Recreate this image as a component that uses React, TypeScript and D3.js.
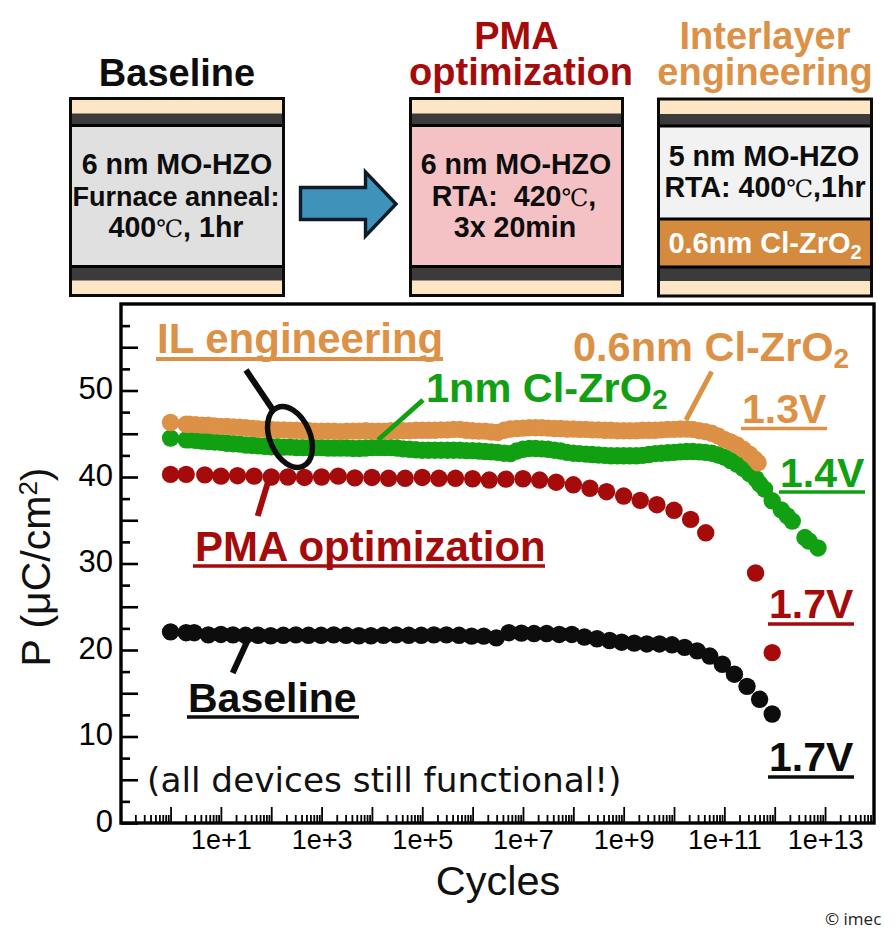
import React, { useEffect, useRef } from "react";
import * as d3 from "d3";

// log10(cycles) and polarization (uC/cm2)
const baselineExp = [0, 0.31, 0.47, 0.75, 1, 1.24, 1.49, 1.74, 1.99, 2.24, 2.49, 2.74, 2.99, 3.24, 3.49, 3.74, 3.98, 4.23, 4.48, 4.73, 4.98, 5.23, 5.48, 5.73, 5.98, 6.22, 6.47, 6.72, 6.97, 7.22, 7.47, 7.72, 7.97, 8.22, 8.47, 8.72, 8.96, 9.21, 9.46, 9.71, 9.96, 10.21, 10.46, 10.71, 10.96, 11.2, 11.45, 11.7, 11.95];
const baselineP = [22.1, 22.0, 22.0, 21.75, 21.8, 21.75, 21.7, 21.7, 21.65, 21.7, 21.75, 21.7, 21.7, 21.75, 21.7, 21.65, 21.65, 21.7, 21.75, 21.7, 21.7, 21.75, 21.75, 21.7, 21.6, 21.6, 21.4, 22.0, 21.95, 21.9, 21.9, 21.8, 21.8, 21.5, 21.3, 21.1, 20.9, 20.8, 20.7, 20.7, 20.6, 20.3, 19.9, 19.3, 18.35, 17.2, 15.8, 14.3, 12.6];

const pmaExp = [0, 0.31, 0.68, 1, 1.33, 1.66, 2, 2.33, 2.66, 3, 3.33, 3.66, 4, 4.33, 4.66, 5, 5.33, 5.66, 6, 6.33, 6.66, 7, 7.33, 7.66, 8, 8.33, 8.66, 9, 9.33, 9.66, 10, 10.33, 10.63, 11.62, 11.95];
const pmaP = [40.3, 40.3, 40.25, 40.1, 40.15, 40.1, 40, 40, 39.95, 40, 40.1, 39.9, 39.95, 39.85, 39.85, 39.95, 39.85, 39.85, 39.8, 39.65, 39.75, 39.8, 39.65, 39.4, 39.1, 38.7, 38.3, 37.8, 37.3, 36.8, 36.15, 35.1, 33.55, 28.9, 19.7];

const clOneExp = [
  0, 0.31, 0.375, 0.5, 0.625, 0.75, 0.875,
  1, 1.125, 1.25, 1.375, 1.5, 1.625, 1.75, 1.875,
  2, 2.125, 2.25, 2.375, 2.5, 2.625, 2.75, 2.875,
  3, 3.125, 3.25, 3.375, 3.5, 3.625, 3.75, 3.875,
  4, 4.125, 4.25, 4.375, 4.5, 4.625, 4.75, 4.875,
  5, 5.125, 5.25, 5.375, 5.5, 5.625, 5.75, 5.875,
  6, 6.125, 6.25, 6.375, 6.5, 6.625, 6.75, 6.875,
  7, 7.125, 7.25, 7.375, 7.5, 7.625, 7.75, 7.875,
  8, 8.125, 8.25, 8.375, 8.5, 8.625, 8.75, 8.875,
  9, 9.125, 9.25, 9.375, 9.5, 9.625, 9.75, 9.875,
  10, 10.125, 10.25, 10.375, 10.5, 10.625, 10.75, 10.875,
  11, 11.125, 11.25, 11.375, 11.5, 11.625, 11.7, 11.8, 11.95, 12.13, 12.25, 12.35, 12.6, 12.68, 12.86,
];
const clOneP = [
  44.5, 44.3, 44.3, 44.25, 44.15, 44.1, 44.05,
  44.0, 43.9, 43.85, 43.8, 43.7, 43.65, 43.6, 43.55,
  43.5, 43.5, 43.45, 43.45, 43.4, 43.4, 43.4, 43.4,
  43.4, 43.35, 43.35, 43.35, 43.35, 43.3, 43.3, 43.35,
  43.4, 43.4, 43.4, 43.4, 43.35, 43.25, 43.2, 43.15,
  43.1, 43.1, 43.1, 43.1, 43.1, 43.1, 43.1, 43.05,
  43.05, 43.0, 42.95, 42.9, 42.85, 42.75, 42.7, 43.0,
  43.2, 43.3, 43.3, 43.25, 43.2, 43.1, 43.0, 42.85,
  42.75, 42.7, 42.65, 42.6, 42.55, 42.5, 42.45, 42.45,
  42.45, 42.45, 42.45, 42.5, 42.6, 42.7, 42.75, 42.8,
  42.85, 42.9, 42.95, 42.95, 42.9, 42.85, 42.75, 42.55,
  42.3, 41.9, 41.5, 41.0, 40.4, 39.8, 39.2, 38.6, 37.25, 36.2, 35.5, 34.9, 33.0, 32.6, 31.8,
];

const clSixExp = [
  0, 0.31, 0.375, 0.5, 0.625, 0.75, 0.875,
  1, 1.125, 1.25, 1.375, 1.5, 1.625, 1.75, 1.875,
  2, 2.125, 2.25, 2.375, 2.5, 2.625, 2.75, 2.875,
  3, 3.125, 3.25, 3.375, 3.5, 3.625, 3.75, 3.875,
  4, 4.125, 4.25, 4.375, 4.5, 4.625, 4.75, 4.875,
  5, 5.125, 5.25, 5.375, 5.5, 5.625, 5.75, 5.875,
  6, 6.125, 6.25, 6.375, 6.5, 6.625, 6.75, 6.875,
  7, 7.125, 7.25, 7.375, 7.5, 7.625, 7.75, 7.875,
  8, 8.125, 8.25, 8.375, 8.5, 8.625, 8.75, 8.875,
  9, 9.125, 9.25, 9.375, 9.5, 9.625, 9.75, 9.875,
  10, 10.125, 10.25, 10.375, 10.5, 10.625, 10.75, 10.875,
  11, 11.125, 11.25, 11.375, 11.5, 11.6, 11.67,
];
const clSixP = [
  46.3, 46.1, 46.1, 46.05, 46.0, 46.0, 45.9,
  45.85, 45.85, 45.8, 45.75, 45.7, 45.6, 45.55, 45.5,
  45.5, 45.45, 45.45, 45.4, 45.4, 45.35, 45.35, 45.3,
  45.3, 45.3, 45.3, 45.25, 45.3, 45.3, 45.3, 45.35,
  45.3, 45.3, 45.3, 45.35, 45.35, 45.35, 45.35, 45.4,
  45.4, 45.4, 45.4, 45.45, 45.45, 45.5, 45.5, 45.4,
  45.35, 45.3, 45.3, 45.2, 45.15, 45.4, 45.55, 45.6,
  45.65, 45.7, 45.7, 45.7, 45.65, 45.6, 45.6, 45.55,
  45.55, 45.5, 45.5, 45.45, 45.45, 45.4, 45.4, 45.35,
  45.35, 45.35, 45.35, 45.4, 45.4, 45.4, 45.45, 45.5,
  45.5, 45.55, 45.55, 45.5, 45.35, 45.25, 45.05, 44.75,
  44.35, 44.05, 43.7, 43.2, 42.65, 42.1, 41.65,
];

const yLabels = [0, 10, 20, 30, 40, 50];
const xLabelExp = [1, 3, 5, 7, 9, 11, 13];

const BLACK = "#0d0d0d";
const RED = "#a50b0b";
const GREEN = "#11a011";
const TAN = "#dc9146";
const SANS = "'Liberation Sans', Arial, sans-serif";

const Stack = ({ x, width, top, core, bottomLayer }: any) => {
  const h = 197;
  return (
    <g>
      <rect x={x} y={top} width={width} height={h} fill="#fce6c6" />
      <rect x={x} y={top + 15} width={width} height={13} fill="#3b3b3b" />
      <rect x={x} y={top + 168} width={width} height={14} fill="#3b3b3b" />
      <rect x={x} y={top + 27} width={width} height={141} fill={core} />
      {bottomLayer}
      <line x1={x} x2={x + width} y1={top + 27} y2={top + 27} stroke="#000" strokeWidth={3} />
      <line x1={x} x2={x + width} y1={top + 168} y2={top + 168} stroke="#000" strokeWidth={3} />
      <rect x={x} y={top} width={width} height={h} fill="none" stroke="#0a0a0a" strokeWidth={3} />
    </g>
  );
};

const Degree = () => (
  <tspan fontFamily="'Liberation Serif', 'DejaVu Serif', serif" fontWeight={400} fontSize={24}>℃</tspan>
);

const Label = ({ x, y, size, color, children, anchor = "middle", weight = 700, family = SANS }: any) => (
  <text x={x} y={y} fontSize={size} fill={color} textAnchor={anchor} fontWeight={weight} fontFamily={family}>
    {children}
  </text>
);

const Chart = () => {
  const ref = useRef<SVGGElement>(null);

  useEffect(() => {
    if (!ref.current) return;
    const g = d3.select(ref.current);
    g.selectAll("*").remove();

    const x = d3.scaleLog().domain([0.1, 1e14]).range([120.2, 875.4]);
    const y = d3.scaleLinear().domain([0, 60]).range([823, 304]);

    const series = [
      { exp: baselineExp, p: baselineP, color: BLACK },
      { exp: pmaExp, p: pmaP, color: RED },
      { exp: clOneExp, p: clOneP, color: GREEN },
      { exp: clSixExp, p: clSixP, color: TAN },
    ];
    series.forEach((s) => {
      g.append("g")
        .selectAll("circle")
        .data(s.exp)
        .join("circle")
        .attr("cx", (d) => x(Math.pow(10, d)))
        .attr("cy", (_, i) => y(s.p[i]))
        .attr("r", 8.7)
        .attr("fill", s.color);
    });

    // y axis: long ticks every 5, short ones in between, labels every 10
    const yMajor = d3.range(0, 60, 5);
    const yMinor = yMajor.map((d) => d + 2.5);
    const yAxisMajor = d3.axisLeft(y).tickValues(yMajor).tickSize(-17).tickFormat(() => "");
    const yAxisMinor = d3.axisLeft(y).tickValues(yMinor).tickSize(-9).tickFormat(() => "");
    [yAxisMajor, yAxisMinor].forEach((axis) => {
      const a = g.append("g").attr("transform", "translate(121,0)").call(axis);
      a.select(".domain").remove();
      a.selectAll("line").attr("stroke", "#000").attr("stroke-width", 2.6);
    });
    const yAxisText = d3.axisLeft(y).tickValues(yLabels).tickSize(0).tickPadding(8);
    const yt = g.append("g").attr("transform", "translate(121,-1.5)").call(yAxisText);
    yt.select(".domain").remove();
    yt.selectAll("text").attr("font-size", 31).attr("font-family", SANS).attr("fill", "#000");

    // x axis: decades plus 2..9 minor ticks
    const decades = d3.range(-1, 14);
    const xMajor = decades.map((e) => Math.pow(10, e));
    const xMinor = decades.flatMap((e) => d3.range(2, 10).map((m) => m * Math.pow(10, e))).filter((v) => x(v) < 872);
    const xAxisMajor = d3.axisBottom(x).tickValues(xMajor.slice(1)).tickSize(-16).tickFormat(() => "");
    const xAxisMinor = d3.axisBottom(x).tickValues(xMinor).tickSize(-8).tickFormat(() => "");
    [xAxisMajor, xAxisMinor].forEach((axis) => {
      const a = g.append("g").attr("transform", "translate(0,823)").call(axis);
      a.select(".domain").remove();
      a.selectAll("line").attr("stroke", "#000").attr("stroke-width", 1.8);
    });
    const xAxisText = d3
      .axisBottom(x)
      .tickValues(xLabelExp.map((e) => Math.pow(10, e)))
      .tickSize(0)
      .tickPadding(7)
      .tickFormat((d) => `1e+${Math.round(Math.log10(+d))}`);
    const xt = g.append("g").attr("transform", "translate(0,823)").call(xAxisText);
    xt.select(".domain").remove();
    xt.selectAll("text").attr("font-size", 27).attr("font-family", SANS).attr("fill", "#000");

    g.append("rect")
      .attr("x", 121)
      .attr("y", 304)
      .attr("width", 753)
      .attr("height", 519)
      .attr("fill", "none")
      .attr("stroke", "#000")
      .attr("stroke-width", 3.4);
  }, []);

  return <g ref={ref} />;
};

function App() {
  return (
    <svg width={896} height={931} style={{ position: "absolute", left: 0, top: 0, background: "#fff" }}>
      {/* device stacks */}
      <Label x={177} y={86} size={38} color={BLACK}>Baseline</Label>
      <text fontSize={38} fontWeight={700} fontFamily={SANS} fill={RED} textAnchor="middle">
        <tspan x={516.5} y={49}>PMA</tspan>
        <tspan x={521} y={85}>optimization</tspan>
      </text>
      <text fontSize={38} fontWeight={700} fontFamily={SANS} fill={TAN} textAnchor="middle">
        <tspan x={765} y={49}>Interlayer</tspan>
        <tspan x={765} y={85}>engineering</tspan>
      </text>

      <Stack x={70.5} width={213} top={98.5} core="#e0e0e0" />
      <Stack x={410.5} width={212} top={98.5} core="#f4c2c4" />
      <Stack
        x={658.5}
        width={213}
        top={99}
        core="#f2f2f2"
        bottomLayer={
          <g>
            <rect x={658.5} y={219} width={213} height={49} fill="#d58b3e" />
            <line x1={658.5} x2={871.5} y1={219} y2={219} stroke="#000" strokeWidth={3} />
          </g>
        }
      />

      <Label x={177} y={174} size={28.6} color={BLACK}>6 nm MO-HZO</Label>
      <Label x={176} y={206} size={27} color={BLACK}>Furnace anneal:</Label>
      <Label x={176} y={237} size={28.6} color={BLACK}>400<Degree />, 1hr</Label>
      <Label x={516} y={174} size={28.6} color={BLACK}>6 nm MO-HZO</Label>
      <Label x={514} y={206} size={28.6} color={BLACK}>RTA:{"\u00a0\u00a0"}420<Degree />,</Label>
      <Label x={515} y={237} size={28.6} color={BLACK}>3x 20min</Label>
      <Label x={764} y={166} size={28.6} color={BLACK}>5 nm MO-HZO</Label>
      <Label x={765} y={197} size={28.6} color={BLACK}>RTA: 400<Degree />,1hr</Label>
      <Label x={765} y={253} size={29} color="#fff">
        0.6nm Cl-ZrO<tspan fontSize={20} dy={6}>2</tspan>
      </Label>

      {/* arrow */}
      <path d="M300.5,187.5 H365.5 V172 L396,204 L365.5,236 V219.5 H300.5 Z" fill="#3f93bb" stroke="#0e1c28" strokeWidth={3.4} />

      <Chart />

      {/* leaders */}
      <line x1={711.7} y1={371.7} x2={686} y2={420} stroke={TAN} strokeWidth={5} />
      <line x1={423} y1={400} x2={378} y2={440} stroke={GREEN} strokeWidth={5} />
      <line x1={246} y1={370} x2={273} y2={410} stroke={BLACK} strokeWidth={6} />
      <ellipse cx={290} cy={437} rx={20} ry={32} fill="none" stroke={BLACK} strokeWidth={5.5} transform="rotate(-24 290 437)" />
      <line x1={267.7} y1={483} x2={257.7} y2={516} stroke={RED} strokeWidth={6} />
      <line x1={247} y1={641.7} x2={232.7} y2={673} stroke={BLACK} strokeWidth={6} />

      {/* annotations */}
      <Label x={157} y={353} size={42} color={TAN} anchor="start">IL engineering</Label>
      <line x1={156} x2={443} y1={359} y2={359} stroke={TAN} strokeWidth={4} />
      <Label x={573} y={361} size={41.5} color={TAN} anchor="start">
        0.6nm Cl-ZrO<tspan fontSize={28} dy={7}>2</tspan>
      </Label>
      <Label x={426} y={402} size={41.5} color={GREEN} anchor="start">
        1nm Cl-ZrO<tspan fontSize={28} dy={7}>2</tspan>
      </Label>
      <Label x={742} y={423} size={41} color={TAN} anchor="start">1.3V</Label>
      <line x1={741} x2={827} y1={428.5} y2={428.5} stroke={TAN} strokeWidth={3.5} />
      <Label x={780} y={487} size={41} color={GREEN} anchor="start">1.4V</Label>
      <line x1={779} x2={865} y1={492} y2={492} stroke={GREEN} strokeWidth={3.5} />
      <Label x={195} y={561} size={42} color={RED} anchor="start">PMA optimization</Label>
      <line x1={193} x2={545} y1={566} y2={566} stroke={RED} strokeWidth={3.5} />
      <Label x={769} y={618} size={41} color={RED} anchor="start">1.7V</Label>
      <line x1={768} x2={854} y1={624} y2={624} stroke={RED} strokeWidth={3.5} />
      <Label x={188} y={712} size={41} color={BLACK} anchor="start">Baseline</Label>
      <line x1={187} x2={359} y1={717} y2={717} stroke={BLACK} strokeWidth={3.5} />
      <Label x={769} y={771} size={41} color={BLACK} anchor="start">1.7V</Label>
      <line x1={768} x2={854} y1={777} y2={777} stroke={BLACK} strokeWidth={3.5} />
      <Label x={147} y={792} size={34.3} color="#111" anchor="start" weight={400} family="'DejaVu Sans', sans-serif">
        (all devices still functional!)
      </Label>

      {/* axis titles */}
      <Label x={498} y={895} size={41.5} color="#111" weight={400}>Cycles</Label>
      <text transform="translate(50,567) rotate(-90)" textAnchor="middle" fontSize={41} fontFamily={SANS} fill="#111">
        P (μC/cm<tspan fontSize={26} dy={-13}>2</tspan><tspan dy={13}>)</tspan>
      </text>
      <Label x={825} y={925} size={17} color="#222" anchor="start" weight={400} family="'Open Sans', sans-serif">© imec</Label>
    </svg>
  );
}

export default App;
